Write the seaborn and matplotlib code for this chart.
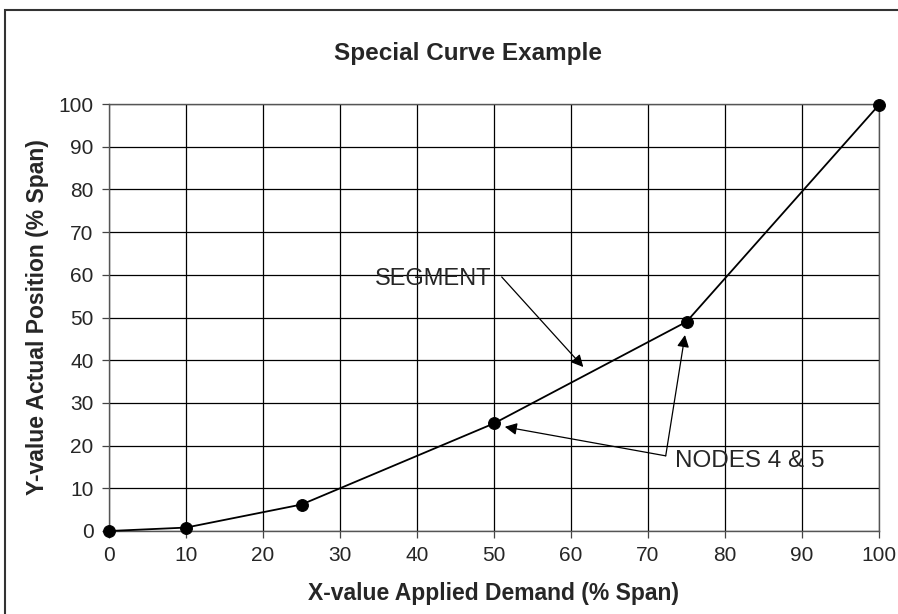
import matplotlib
matplotlib.use("Agg")
import matplotlib.pyplot as plt
import seaborn as sns
import pandas as pd
from matplotlib.patches import Rectangle

# curve nodes
demand = [0, 10, 25, 50, 75, 100]
position = [0, 0.8, 6.2, 25.2, 49, 99.8]
ticks = list(range(0, 101, 10))

sns.set_style("ticks")
plt.rcParams['font.family'] = ['Liberation Sans', 'DejaVu Sans']

df = pd.DataFrame({'x': demand, 'y': position})

fig = plt.figure(figsize=(8.98, 6.14), dpi=100)
ax = fig.add_axes([109 / 898, 1 - 531 / 614, 770 / 898, 427 / 614])

sns.lineplot(data=df, x='x', y='y', ax=ax, color='black', linewidth=1.3,
             marker='o', markersize=8.5, markeredgecolor='black', clip_on=False,
             zorder=5)

ax.set_xlim(0, 100)
ax.set_ylim(0, 100)
ax.set_xticks(ticks)
ax.set_yticks(ticks)
ax.grid(True, color='black', linewidth=0.9)
ax.tick_params(labelsize=15, length=5, width=0.9, color='#444444', pad=6)
for s in ax.spines.values():
    s.set_color('#555555')
    s.set_linewidth(1.0)

ax.set_xlabel('X-value Applied Demand (% Span)', fontsize=16.5, fontweight='bold', labelpad=12)
ax.set_ylabel('Y-value Actual Position (% Span)', fontsize=16.5, fontweight='bold', labelpad=7)
ax.set_title('Special Curve Example', fontsize=17.5, fontweight='bold', pad=32,
             x=(468 - 109) / 770)

arrow = dict(arrowstyle='-|>', color='black', lw=0.9, mutation_scale=18, shrinkA=0, shrinkB=0)
ax.text(34.5, 59.0, 'SEGMENT', fontsize=17, va='center', ha='left')
ax.annotate('', xy=(61.6, 38.4), xytext=(51.0, 59.5), arrowprops=arrow)

ax.text(73.5, 16.5, 'NODES 4 & 5', fontsize=17.5, va='center', ha='left')
ax.annotate('', xy=(51.4, 24.4), xytext=(72.3, 17.6), arrowprops=arrow)
ax.annotate('', xy=(74.8, 45.9), xytext=(72.3, 17.6), arrowprops=arrow)

# outer chart frame
fig.patches.append(Rectangle((5 / 898, -0.05), 1.1, 1 - 10 / 614 + 0.05,
                             transform=fig.transFigure, fill=False,
                             edgecolor='#333333', linewidth=1.5))

fig.savefig('out.png', dpi=100)
